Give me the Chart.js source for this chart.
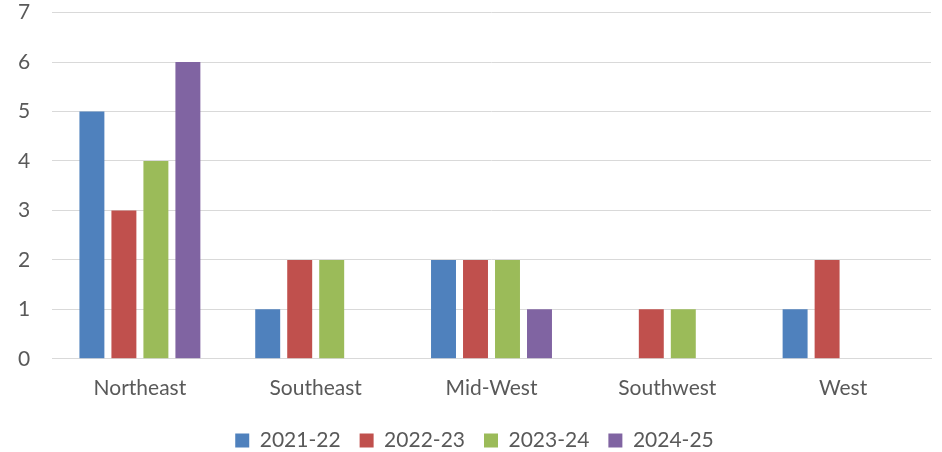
<!DOCTYPE html>
<html>
<head>
<meta charset="utf-8">
<script src="https://cdn.jsdelivr.net/npm/chart.js@4/dist/chart.umd.min.js"></script>
<style>
  html, body { margin: 0; padding: 0; background: #fff; }
  #wrap { width: 942px; height: 452px; position: relative; }
</style>
</head>
<body>
<div id="wrap"><canvas id="regionChart"></canvas></div>
<script>
// categories and series
const regions = ['Northeast', 'Southeast', 'Mid-West', 'Southwest', 'West'];
const seasons = ['2021-22', '2022-23', '2023-24', '2024-25'];
const s2122 = [5, 1, 2, 0, 1];
const s2223 = [3, 2, 2, 1, 2];
const s2324 = [4, 2, 2, 1, 0];
const s2425 = [6, 0, 1, 0, 0];
const colors = ['#4F81BD', '#C0504D', '#9BBB59', '#8064A2'];

document.addEventListener('DOMContentLoaded', function() {
  const ctx = document.getElementById('regionChart').getContext('2d');
  const seriesData = [s2122, s2223, s2324, s2425];
  const txtFont = { family: 'Lato', size: 21 };

  new Chart(ctx, {
    type: 'bar',
    data: {
      labels: regions,
      datasets: seasons.map(function(name, i) {
        return {
          label: name,
          data: seriesData[i],
          backgroundColor: colors[i],
          borderWidth: 0,
          barPercentage: 0.78,
          categoryPercentage: 0.728
        };
      })
    },
    options: {
      responsive: true,
      maintainAspectRatio: false,
      animation: false,
      layout: { padding: { top: 1, right: 11, left: 18, bottom: -9 } },
      plugins: {
        tooltip: { enabled: false },
        legend: {
          position: 'bottom',
          labels: {
            font: txtFont,
            color: '#595959',
            boxWidth: 14,
            boxHeight: 14,
            padding: 19
          }
        }
      },
      scales: {
        x: {
          grid: { display: false, drawTicks: false },
          border: { color: '#D9D9D9', width: 1 },
          afterFit: function(scale) { scale.height = scale.height - 7; },
          ticks: {
            font: txtFont,
            color: '#595959',
            padding: 17
          }
        },
        y: {
          min: 0,
          max: 7,
          grid: { color: '#D9D9D9', lineWidth: 1, drawTicks: false },
          border: { display: false },
          afterFit: function(scale) { scale.width = 34; },
          ticks: {
            stepSize: 1,
            font: txtFont,
            color: '#595959',
            padding: 0,
            crossAlign: 'far'
          }
        }
      }
    }
  });
});
</script>
</body>
</html>
